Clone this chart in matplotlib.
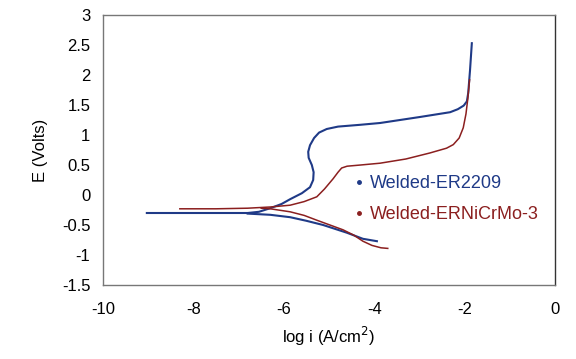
import matplotlib
matplotlib.use('Agg')
import matplotlib.pyplot as plt

plt.rcParams['font.family'] = ['Liberation Sans', 'DejaVu Sans']

# Welded-ER2209 (blue): anodic branch then cathodic branch
er2209_anodic_x = [-9.03, -8.0, -7.0, -6.8, -6.55, -6.3, -6.05, -5.86, -5.6, -5.42, -5.35, -5.34,
                   -5.38, -5.45, -5.46, -5.42, -5.33, -5.22, -5.05, -4.8, -4.31, -3.87, -2.99,
                   -2.32, -2.15, -2.02, -1.95, -1.92, -1.88, -1.84]
er2209_anodic_y = [-0.30, -0.30, -0.30, -0.30, -0.28, -0.22, -0.15, -0.07, 0.03, 0.13, 0.25, 0.38,
                   0.50, 0.62, 0.72, 0.83, 0.95, 1.04, 1.10, 1.14, 1.17, 1.20, 1.30,
                   1.38, 1.43, 1.49, 1.56, 1.70, 2.08, 2.53]
er2209_cath_x = [-6.8, -6.3, -5.86, -5.5, -5.13, -4.6, -4.25, -3.94]
er2209_cath_y = [-0.31, -0.33, -0.37, -0.43, -0.50, -0.63, -0.73, -0.77]

# Welded-ERNiCrMo-3 (red)
nicrmo_anodic_x = [-8.3, -7.5, -6.8, -6.3, -5.86, -5.55, -5.27, -5.1, -4.91, -4.8, -4.72, -4.6,
                   -4.3, -3.87, -3.3, -2.77, -2.4, -2.25, -2.12, -2.03, -1.97, -1.93, -1.89]
nicrmo_anodic_y = [-0.23, -0.23, -0.22, -0.20, -0.17, -0.11, -0.03, 0.10, 0.27, 0.38, 0.45, 0.48,
                   0.50, 0.53, 0.60, 0.70, 0.78, 0.84, 0.95, 1.12, 1.35, 1.60, 1.92]
nicrmo_cath_x = [-6.5, -6.3, -5.86, -5.55, -5.27, -4.69, -4.45, -4.25, -4.05, -3.85, -3.7]
nicrmo_cath_y = [-0.22, -0.23, -0.28, -0.34, -0.42, -0.58, -0.67, -0.77, -0.84, -0.88, -0.89]

blue = '#1f3a87'
red = '#8b1f1f'

fig = plt.figure(figsize=(5.76, 3.59), dpi=100)
ax = fig.add_axes([103/576, 1-285/359, 452/576, 270/359])

ax.plot(er2209_anodic_x, er2209_anodic_y, color=blue, lw=1.5)
ax.plot(er2209_cath_x, er2209_cath_y, color=blue, lw=1.5)
ax.plot(nicrmo_anodic_x, nicrmo_anodic_y, color=red, lw=1.1)
ax.plot(nicrmo_cath_x, nicrmo_cath_y, color=red, lw=1.1)

# legend-style labels
h1, = ax.plot([], [], 'o', color=blue, ms=2.5, label='Welded-ER2209')
h2, = ax.plot([], [], 'o', color=red, ms=2.5, label='Welded-ERNiCrMo-3')
leg = ax.legend(handles=[h1, h2], loc='upper left', bbox_to_anchor=(0.518, 0.468),
                frameon=False, handlelength=0.6, handletextpad=0.3, labelspacing=0.8,
                fontsize=13)
leg.get_texts()[0].set_color(blue)
leg.get_texts()[1].set_color(red)

ax.set_xlim(-10, 0)
ax.set_ylim(-1.5, 3)
ax.set_xticks([-10, -8, -6, -4, -2, 0])
ax.set_xticklabels(['-10', '-8', '-6', '-4', '-2', '0'])
ax.set_yticks([-1.5, -1, -0.5, 0, 0.5, 1, 1.5, 2, 2.5, 3])
ax.set_yticklabels(['-1.5', '-1', '-0.5', '0', '0.5', '1', '1.5', '2', '2.5', '3'])
ax.tick_params(length=0, labelsize=12, pad=12)
ax.tick_params(axis='y', pad=9)
for s in ax.spines.values():
    s.set_color('#777777')
    s.set_linewidth(1.0)
ax.spines['right'].set_color('#333333')

ax.set_xlabel('log i (A/cm$^2$)', fontsize=12, labelpad=6)
ax.set_ylabel('E (Volts)', fontsize=12, labelpad=10)

fig.savefig('out.png', dpi=100)
